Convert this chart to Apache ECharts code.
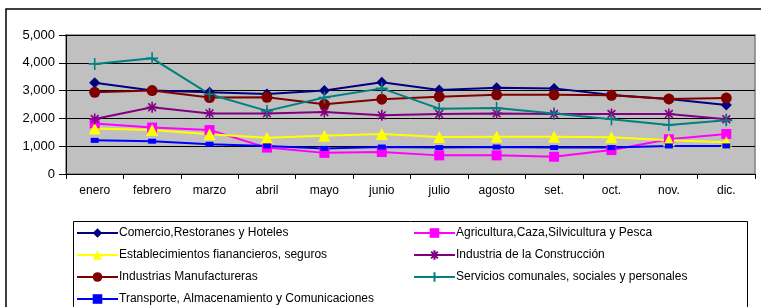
<!DOCTYPE html>
<html>
<head>
<meta charset="utf-8">
<script src="https://cdn.jsdelivr.net/npm/echarts@6/dist/echarts.min.js"></script>
<style>html,body{margin:0;padding:0;background:#fff;}#c{width:761px;height:307px;}</style>
</head>
<body>
<div id="c"></div>
<script>
var months = ['enero','febrero','marzo','abril','mayo','junio','julio','agosto','set.','oct.','nov.','dic.'];
var yTicks = [0, 1000, 2000, 3000, 4000, 5000];
var comercio = [3280, 3000, 2940, 2880, 3000, 3300, 3020, 3100, 3080, 2840, 2700, 2480];
var agricultura = [1820, 1670, 1580, 950, 760, 790, 670, 670, 620, 860, 1250, 1440];
var financieros = [1640, 1580, 1430, 1300, 1380, 1440, 1330, 1340, 1340, 1320, 1210, 1140];
var construccion = [1980, 2400, 2180, 2180, 2230, 2110, 2160, 2180, 2160, 2160, 2160, 1970];
var manufactureras = [2940, 3000, 2750, 2760, 2510, 2690, 2780, 2850, 2850, 2830, 2700, 2730];
var servicios = [3960, 4160, 2870, 2270, 2750, 3080, 2350, 2370, 2180, 1970, 1760, 1930];
var transporte = [1210, 1180, 1070, 1010, 920, 970, 950, 970, 950, 950, 1010, 1010];

var names = {
  comercio: 'Comercio,Restoranes y Hoteles',
  agricultura: 'Agricultura,Caza,Silvicultura y Pesca',
  financieros: 'Establecimientos fianancieros, seguros',
  construccion: 'Industria de la Construcción',
  manufactureras: 'Industrias Manufactureras',
  servicios: 'Servicios comunales, sociales y personales',
  transporte: 'Transporte, Almacenamiento y Comunicaciones'
};

var FONT = 'Liberation Sans, Arial, sans-serif';
function mk(name, data, color, symbol, size, stroke) {
  return {
    name: name, type: 'line', data: data, symbol: symbol, symbolSize: size,
    showAllSymbol: true, animation: false,
    lineStyle: { color: color, width: 2 },
    itemStyle: stroke ? { color: color, borderColor: color, borderWidth: 1.6 } : { color: color, borderWidth: 0 }
  };
}
var asterisk = 'path://M5,0L5,10M0,5L10,5M1.5,1.5L8.5,8.5M1.5,8.5L8.5,1.5';
var plus = 'path://M5,0L5,10M0,5L10,5';

var chart = echarts.init(document.getElementById('c'), null, { renderer: 'canvas' });
var legendCommon = {
  orient: 'vertical', itemWidth: 41, itemHeight: 12, itemGap: 10,
  textStyle: { fontFamily: FONT, fontSize: 12, color: '#000', padding: [0, 0, 0, -4] },
  padding: 0
};
chart.setOption({
  backgroundColor: '#fff',
  animation: false,
  graphic: [
    { type: 'rect', shape: { x: 6, y: 9, width: 900, height: 400 }, style: { fill: 'none', stroke: '#000', lineWidth: 1.5 }, silent: true, z: -1 },
    { type: 'rect', shape: { x: 73.5, y: 221.5, width: 674, height: 120 }, style: { fill: 'none', stroke: '#000', lineWidth: 1 }, silent: true, z: -1 },
    { type: 'rect', shape: { x: 66, y: 35, width: 689, height: 139 }, style: { fill: '#C0C0C0', stroke: '#808080', lineWidth: 1.5 }, silent: true, z: -2 }
  ],
  grid: { left: 66, top: 35, width: 689, height: 139, show: false },
  xAxis: {
    type: 'category', data: months, boundaryGap: true,
    axisLine: { lineStyle: { color: '#000', width: 1 } },
    axisTick: { show: true, length: 5, lineStyle: { color: '#000' } },
    axisLabel: { fontFamily: FONT, fontSize: 12, color: '#000', margin: 11 }
  },
  yAxis: {
    type: 'value', min: yTicks[0], max: yTicks[yTicks.length - 1], interval: 1000,
    axisLine: { show: true, lineStyle: { color: '#000', width: 1 } },
    axisTick: { show: true, length: 7, lineStyle: { color: '#000' } },
    splitLine: { lineStyle: { color: '#000', width: 1 } },
    axisLabel: { fontFamily: FONT, fontSize: 13, color: '#000', margin: 11,
      formatter: function (v) { return v.toLocaleString('en-US'); } }
  },
  legend: [
    Object.assign({ left: 76, top: 227, data: [names.comercio, names.financieros, names.manufactureras, names.transporte] }, legendCommon),
    Object.assign({ left: 413, top: 227, data: [names.agricultura, names.construccion, names.servicios] }, legendCommon)
  ],
  series: [
    mk(names.comercio, comercio, '#000080', 'diamond', 11),
    mk(names.agricultura, agricultura, '#FF00FF', 'rect', 10),
    mk(names.financieros, financieros, '#FFFF00', 'triangle', 12),
    mk(names.construccion, construccion, '#800080', asterisk, 11, true),
    mk(names.manufactureras, manufactureras, '#800000', 'circle', 11),
    mk(names.servicios, servicios, '#008080', plus, 12, true),
    mk(names.transporte, transporte, '#0000FF', 'rect', [8, 5])
  ]
});
</script>
</body>
</html>
